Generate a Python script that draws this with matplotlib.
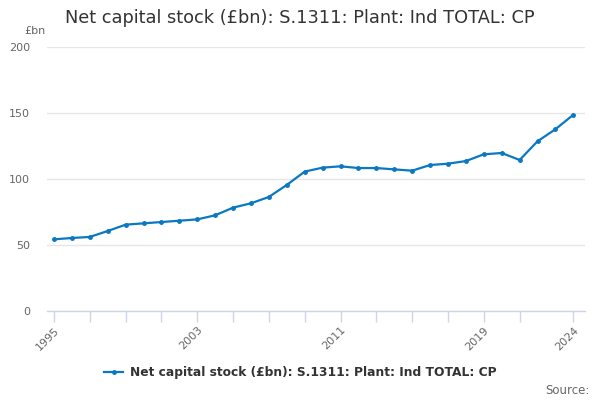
import matplotlib
matplotlib.use("Agg")
import matplotlib.pyplot as plt

years = list(range(1995, 2025))
values = [54.3, 55.3, 56.1, 60.6, 65.4, 66.4, 67.4, 68.4, 69.4, 72.5,
          78.3, 81.6, 86.4, 95.5, 105.6, 108.6, 109.6, 108.3, 108.3, 107.3,
          106.3, 110.6, 111.6, 113.6, 118.7, 119.7, 114.4, 128.6, 137.7, 148.7]
tick_years = list(range(1995, 2022, 2)) + [2024]
label_years = [1995, 2003, 2011, 2019, 2024]
y_ticks = [0, 50, 100, 150, 200]
title = "Net capital stock (£bn): S.1311: Plant: Ind TOTAL: CP"
series_name = "Net capital stock (£bn): S.1311: Plant: Ind TOTAL: CP"

plt.rcParams['font.family'] = ['DejaVu Sans']
fig = plt.figure(figsize=(6, 4), dpi=100)
ax = fig.add_axes([0.078, 0.2225, 0.897, 0.66])
color = '#0b78c2'
ax.plot(years, values, color=color, lw=1.6, marker='o', ms=2.5, label=series_name)
ax.set_xlim(1994.6, 2024.65)
ax.set_ylim(0, 200)
ax.set_yticks(y_ticks)
ax.set_yticklabels([str(v) for v in y_ticks], fontsize=8, color='#666666')
ax.tick_params(axis='y', length=0, pad=12)
ax.grid(axis='y', color='#e6e6e6', lw=1)
ax.set_axisbelow(True)
ax.set_xticks(tick_years)
ax.set_xticklabels([str(y) if y in label_years else '' for y in tick_years],
                   rotation=45, ha='right', rotation_mode='anchor', fontsize=8, color='#666666')
ax.tick_params(axis='x', length=8, color='#ccd6eb', width=1, pad=2)
for s in ['top', 'right', 'left']:
    ax.spines[s].set_visible(False)
ax.spines['bottom'].set_color('#ccd6eb')
ax.spines['bottom'].set_linewidth(1)

fig.text(0.5, 0.955, title, ha='center', va='center', fontsize=12.8, color='#333333')
fig.text(0.04, 0.922, '£bn', ha='left', va='center', fontsize=8, color='#666666')
leg = fig.legend(loc='center', bbox_to_anchor=(0.5, 0.068), frameon=False,
                 prop={'weight': 'bold', 'size': 8.8}, handlelength=1.6, handletextpad=0.5)
for t in leg.get_texts():
    t.set_color('#333333')
fig.text(0.982, 0.025, 'Source:', ha='right', va='center', fontsize=8.5, color='#666666')
fig.savefig('out.png', dpi=100)
